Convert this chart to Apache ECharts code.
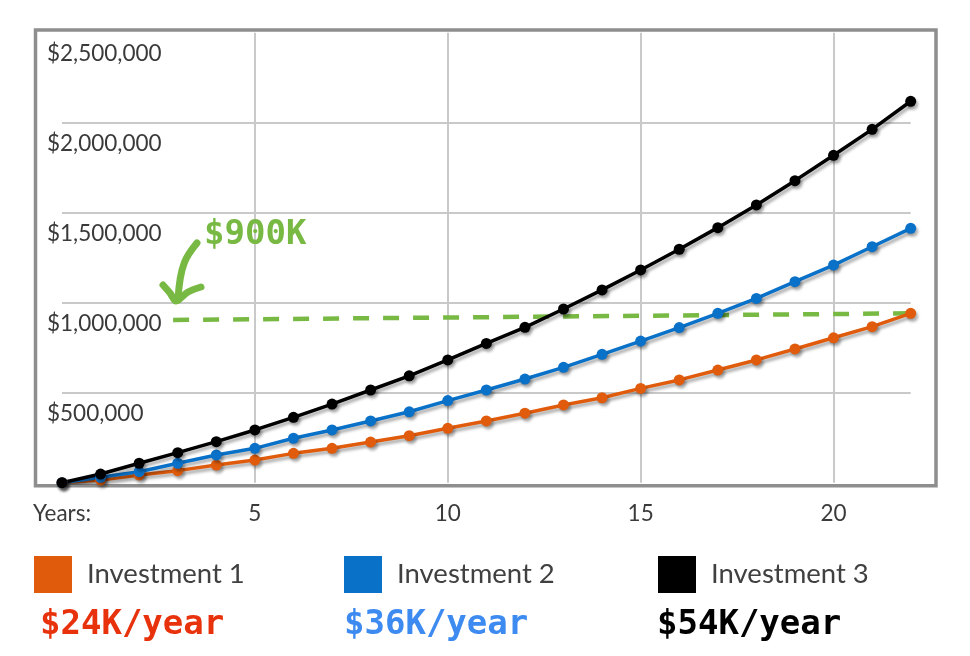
<!DOCTYPE html>
<html>
<head>
<meta charset="utf-8">
<script src="https://cdn.jsdelivr.net/npm/echarts@6/dist/echarts.min.js"></script>
<style>
html,body{margin:0;padding:0;background:#fff;}
#chart{width:970px;height:656px;}
</style>
</head>
<body>
<div id="chart"></div>
<script>
// Data
const years = [0,1,2,3,4,5,6,7,8,9,10,11,12,13,14,15,16,17,18,19,20,21,22];
const investment1 = [0,15000,43000,67000,98000,126000,163000,191000,226000,261000,302000,343000,386000,432000,472000,524000,571000,626000,682000,743000,805000,867000,941000];
const investment2 = [0,30000,61000,108000,154000,191000,247000,293000,343000,394000,456000,515000,576000,641000,713000,787000,862000,941000,1024000,1117000,1209000,1311000,1413000];
const investment3 = [0,48000,108000,167000,228000,293000,363000,437000,515000,594000,682000,774000,863000,965000,1071000,1182000,1297000,1417000,1543000,1678000,1819000,1963000,2119000];
const targetLine = [[2.88, 904000],[22, 941000]];
const seriesNames = ['Investment 1','Investment 2','Investment 3'];
const perYear = ['$24K/year','$36K/year','$54K/year'];
const targetLabel = '$900K';

const colors = ['#e05c0c','#0a71c8','#000000'];
const subColors = ['#e8320c','#3d8af0','#000000'];
const green = '#78b943';

function pairs(arr){ return arr.map((v,i)=>[years[i], v]); }

const lineShadow = {shadowColor:'rgba(0,0,0,0.32)', shadowBlur:3, shadowOffsetX:2, shadowOffsetY:3};

function lineSeries(name, data, color){
  return {
    name: name, type:'line', data: pairs(data),
    symbol:'circle', symbolSize:11, showSymbol:true,
    lineStyle:Object.assign({color:color, width:3.5}, lineShadow),
    itemStyle:Object.assign({color:color}, lineShadow),
    emphasis:{disabled:true}, animation:false
  };
}

const chart = echarts.init(document.getElementById('chart'), null, {renderer:'canvas'});
const legendLefts = [34, 344, 658];
const monoFont = 'bold 34px "DejaVu Sans Mono"';
const option = {
  backgroundColor:'#fff',
  animation:false,
  grid:{left:62, right:59.3, top:32.7, bottom:173.3, containLabel:false},
  xAxis:{
    type:'value', min:0, max:22, interval:5,
    axisLine:{show:false}, axisTick:{show:false},
    splitLine:{show:true, showMinLine:false, showMaxLine:false, lineStyle:{color:'#c9c9c9', width:2}},
    axisLabel:{
      margin:20, fontFamily:'Lato', fontSize:22.5, color:'#3a3a3a', showMaxLabel:false,
      formatter:function(v){ return v===0 ? 'Years:' : String(v); }
    }
  },
  yAxis:{
    type:'value', min:0, max:2500000, interval:500000, offset:27,
    axisLine:{show:false}, axisTick:{show:false},
    splitLine:{show:true, showMinLine:false, showMaxLine:false, lineStyle:{color:'#c9c9c9', width:2}},
    axisLabel:{
      inside:true, margin:12, align:'left', verticalAlign:'top', lineHeight:42,
      fontFamily:'Lato', fontSize:22.5, color:'#3a3a3a', showMinLabel:false,
      formatter:function(v){ return '$' + v.toLocaleString('en-US'); }
    }
  },
  legend: seriesNames.map(function(n,i){
    return {
      data:[{name:n, icon:'rect'}], left:legendLefts[i], top:556, padding:0,
      itemWidth:38, itemHeight:37, selectedMode:false,
      itemStyle:{shadowBlur:0, shadowOffsetX:0, shadowOffsetY:0, shadowColor:'transparent'},
      textStyle:{fontFamily:'Lato', fontSize:27.5, fontWeight:400, color:'#404040', padding:[11,0,0,10]}
    };
  }),
  graphic:[
    {type:'rect', z:0, silent:true, shape:{x:35.5, y:30, width:900.5, height:455.7},
     style:{fill:'none', stroke:'#8e8e8e', lineWidth:3.5}},
    {type:'bezierCurve', z:10, silent:true,
     shape:{x1:197, y1:243, cpx1:188, cpy1:254, cpx2:180, cpy2:262, x2:178, y2:300},
     style:{fill:'none', stroke:green, lineWidth:7, lineCap:'round', lineJoin:'round'}},
    {type:'polyline', z:10, silent:true,
     shape:{points:[[163,285],[170,293],[176,301],[188,292],[201,287]], smooth:0.3},
     style:{fill:'none', stroke:green, lineWidth:7, lineCap:'round', lineJoin:'round'}},
    {type:'text', z:10, silent:true, x:204, y:235,
     style:{text:targetLabel, fill:green, font:monoFont, textVerticalAlign:'middle'}},
    {type:'text', z:10, silent:true, x:40, y:625,
     style:{text:perYear[0], fill:subColors[0], font:monoFont, textVerticalAlign:'middle'}},
    {type:'text', z:10, silent:true, x:344, y:625,
     style:{text:perYear[1], fill:subColors[1], font:monoFont, textVerticalAlign:'middle'}},
    {type:'text', z:10, silent:true, x:657, y:625,
     style:{text:perYear[2], fill:subColors[2], font:monoFont, textVerticalAlign:'middle'}}
  ],
  series:[
    {name:'target', type:'line', data:targetLine, symbol:'none', z:1,
     lineStyle:{color:green, width:4.5, type:[16,14]}, emphasis:{disabled:true}, animation:false},
    lineSeries(seriesNames[0], investment1, colors[0]),
    lineSeries(seriesNames[1], investment2, colors[1]),
    lineSeries(seriesNames[2], investment3, colors[2])
  ]
};
chart.setOption(option);
</script>
</body>
</html>
